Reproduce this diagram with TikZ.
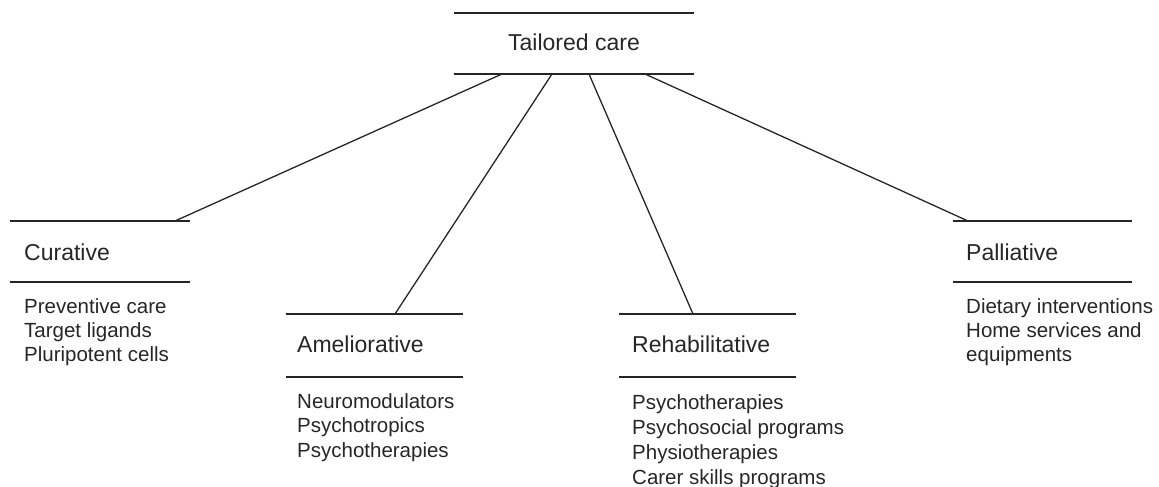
\documentclass[tikz,border=0pt]{standalone}
\usepackage{fontspec}
\setmainfont{Liberation Sans}
\begin{document}
\begin{tikzpicture}[x=1pt,y=-1pt,
  rule/.style={line width=1.8pt, draw=black!85},
  link/.style={line width=1.3pt, draw=black!85},
  head/.style={anchor=base west, inner sep=0pt, font=\fontsize{23}{27}\selectfont, text=black!85},
  item/.style={anchor=base west, inner sep=0pt, font=\fontsize{20.5}{24}\selectfont, text=black!85}]
\useasboundingbox (0,0) rectangle (1159,487);

% root: Tailored care between two rules
\draw[rule] (454,13) -- (694,13);
\node[head, anchor=base] (root) at (574,51) {Tailored care};
\draw[rule] (454,74) -- (694,74);
\coordinate (rootA) at (502,74);
\coordinate (rootB) at (552,74);
\coordinate (rootC) at (589,74);
\coordinate (rootD) at (645,74);

% Curative
\draw[rule] (10,221) -- (190,221);
\coordinate (curTop) at (175,221);
\node[head] (cur) at (24,260) {Curative};
\draw[rule] (10,282) -- (190,282);
\foreach \t [count=\i] in {Preventive care, Target ligands, Pluripotent cells}
  \node[item] (cur\i) at (24,313+24*\i-24) {\t};

% Ameliorative
\draw[rule] (286,314) -- (463,314);
\coordinate (ameTop) at (395,314);
\node[head] (ame) at (297,352) {Ameliorative};
\draw[rule] (286,377) -- (463,377);
\foreach \t [count=\i] in {Neuromodulators, Psychotropics, Psychotherapies}
  \node[item] (ame\i) at (297,408+24.5*\i-24.5) {\t};

% Rehabilitative
\draw[rule] (619,314) -- (796,314);
\coordinate (rehTop) at (693,314);
\node[head] (reh) at (632,352) {Rehabilitative};
\draw[rule] (619,377) -- (796,377);
\foreach \t [count=\i] in {Psychotherapies, Psychosocial programs, Physiotherapies, Carer skills programs}
  \node[item] (reh\i) at (632,409+25*\i-25) {\t};

% Palliative
\draw[rule] (953,221) -- (1132,221);
\coordinate (palTop) at (968,221);
\node[head] (pal) at (966,260) {Palliative};
\draw[rule] (953,282) -- (1132,282);
\foreach \t [count=\i] in {Dietary interventions, Home services and, equipments}
  \node[item] (pal\i) at (966,313+24*\i-24) {\t};

% links from the root to each branch
\draw[link] (rootA) -- (curTop);
\draw[link] (rootB) -- (ameTop);
\draw[link] (rootC) -- (rehTop);
\draw[link] (rootD) -- (palTop);
\end{tikzpicture}
\end{document}
